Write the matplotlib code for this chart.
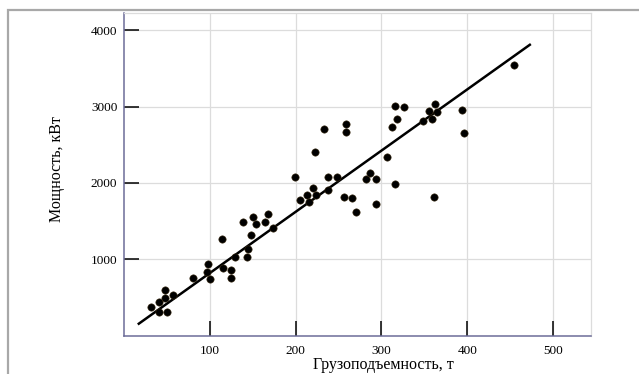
import numpy as np
import matplotlib.pyplot as plt
from matplotlib.patches import Rectangle

plt.rcParams['font.family'] = ['Liberation Serif', 'DejaVu Serif']

# Payload, t  /  power, kW
payload = [31, 40, 47, 47, 40, 50, 57, 80, 98, 97, 100, 114, 115, 125, 125,
           129, 143, 144, 138, 148, 150, 154, 164, 168, 174,
           199, 205, 213, 220, 215, 224, 222, 233, 238, 248, 238,
           256, 266, 270, 259, 259, 282, 287, 294, 294, 307, 316,
           312, 318, 316, 326, 348, 355, 359, 363, 365, 361,
           394, 396, 454]
power = [370, 445, 500, 598, 316, 316, 528, 762, 938, 838, 740, 1266, 882, 858, 762,
         1028, 1030, 1133, 1486, 1318, 1558, 1468, 1486, 1590, 1406,
         2079, 1776, 1848, 1929, 1752, 1844, 2404, 2709, 2079, 2079, 1910,
         1818, 1800, 1620, 2769, 2668, 2049, 2128, 2049, 1720, 2341, 1980,
         2728, 2832, 3008, 2997, 2808, 2941, 2832, 3031, 2930, 1812,
         2958, 2649, 3547]

# regression line end points
fit_x = [17, 473]
fit_y = [157, 3809]

xticks = [100, 200, 300, 400, 500]
yticks = [1000, 2000, 3000, 4000]
xtick_colors = ['#7b5c98', '#7b5c98', '#9a5a68', '#9a5a68', '#4f8a8a']
ytick_colors = ['#7b5c98', '#5a5a6a', '#5a8a8a', '#9a5a68']

fig = plt.figure(figsize=(6.39, 3.74), dpi=100)
fig.patches.append(Rectangle((8/639, -0.1), 1.2, 1.1 - 10/374, transform=fig.transFigure,
                             fill=False, edgecolor='#a8a8a8', linewidth=1.6))
ax = fig.add_axes([0.1944, 0.1024, 0.73, 0.8628])

ax.set_xlim(0, 544)
ax.set_ylim(0, 4225)
ax.set_xticks(xticks)
ax.set_yticks(yticks)
ax.grid(True, color='#dcdcdc', linewidth=0.9)
ax.set_axisbelow(True)

ax.plot(fit_x, fit_y, color='black', linewidth=1.8, zorder=3)
ax.scatter(payload, power, s=28, color='black', edgecolors='#3a2a10', linewidths=0.4, zorder=4)

for s in ['left', 'bottom']:
    ax.spines[s].set_color('#6c6c98')
    ax.spines[s].set_linewidth(1.1)
for s in ['top', 'right']:
    ax.spines[s].set_color('#dcdcdc')
    ax.spines[s].set_linewidth(0.9)

ax.tick_params(direction='in', length=11, width=1.1, labelsize=9.5, pad=5)
ax.tick_params(axis='x', pad=7)
for t, c in zip(ax.xaxis.get_major_ticks(), xtick_colors):
    t.tick1line.set_color(c)
for t, c in zip(ax.yaxis.get_major_ticks(), ytick_colors):
    t.tick1line.set_color(c)

ax.set_xlabel('Грузоподъемность, т', fontsize=11.5)
ax.xaxis.set_label_coords(0.555, -0.067)
ax.set_ylabel('Мощность, кВт', fontsize=11.5)
ax.yaxis.set_label_coords(-0.128, 0.515)

plt.savefig('out.png', dpi=100)
